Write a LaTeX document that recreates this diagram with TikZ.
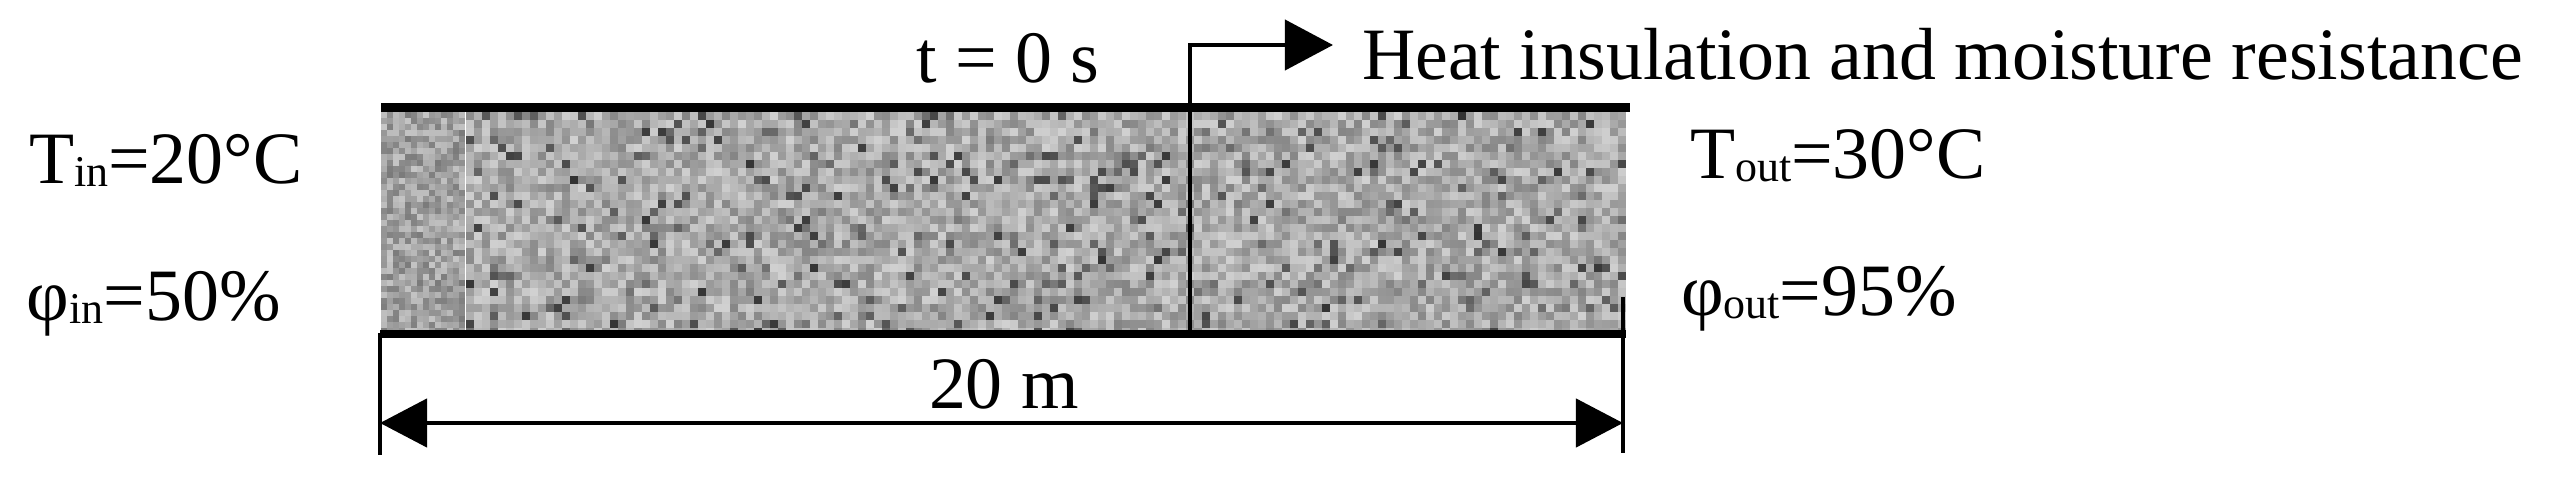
\documentclass[tikz,border=0pt]{standalone}
\usepackage{fontspec}
\setmainfont{Liberation Serif}
\usetikzlibrary{arrows.meta}
\newcommand{\mysub}[1]{\raisebox{-1pt}{\fontsize{12.5}{13}\selectfont #1}}
\tikzset{
  lbl/.style={inner sep=0pt, outer sep=0pt, anchor=base west, font=\fontsize{21}{25}\selectfont},
  wall/.style={line width=0.08cm},
  thinline/.style={line width=0.04cm},
  extline/.style={line width=0.035cm},
  bigtip/.style={-{Triangle[length=0.48cm,width=0.5cm]}},
  bothtips/.style={{Triangle[length=0.47cm,width=0.48cm]}-{Triangle[length=0.47cm,width=0.48cm]}}
}
\begin{document}
\begin{tikzpicture}[x=0.01cm,y=-0.01cm]
\useasboundingbox (0,0) rectangle (2562,494);
\pgfmathsetseed{7}
% textured slab
\begin{scope}
\clip (381,112) rectangle (1626,330);
\foreach \i in {0,...,144}{
  \foreach \j in {0,...,27}{
    \pgfmathsetmacro\g{18+30*rnd+(rnd>0.92)*32}
    \fill[black!\g] (466+\i*8,112+\j*8) rectangle ++(8.4,8.4);
  }
}
\foreach \i in {0,...,13}{
  \foreach \j in {0,...,36}{
    \pgfmathsetmacro\g{22+30*rnd}
    \fill[black!\g] (381+\i*6,112+\j*6) rectangle ++(6.4,6.4);
  }
}
\end{scope}
% coordinates
\coordinate (tl) at (381,107.5);
\coordinate (tr) at (1630,107.5);
\coordinate (bl) at (380,334);
\coordinate (br) at (1626,334);
\coordinate (dbot) at (1190,333);
\coordinate (dtop) at (1190,45);
\coordinate (atip) at (1333,45);
\coordinate (el1) at (380,333);
\coordinate (el2) at (380,455);
\coordinate (er1) at (1623,297);
\coordinate (er2) at (1623,453);
\coordinate (dl) at (380,423);
\coordinate (dr) at (1623,423);
% walls
\draw[wall] (tl) -- (tr);
\draw[wall] (bl) -- (br);
% divider and arrow
\draw[thinline, bigtip] (dbot) -- (dtop) -- (atip);
% dimension
\draw[extline] (el1) -- (el2);
\draw[extline] (er1) -- (er2);
\draw[line width=0.045cm, bothtips] (dl) -- (dr);
% labels
\node[lbl] (Tin) at (29,183) {T\mysub{in}=20°C};
\node[lbl] (phiin) at (27,320) {φ\mysub{in}=50\%};
\node[lbl] (Tout) at (1690,178) {T\mysub{out}=30°C};
\node[lbl] (phiout) at (1681,315) {φ\mysub{out}=95\%};
\node[lbl] (t0) at (916,82) {t = 0 s};
\node[lbl] (heat) at (1362,80) {Heat insulation and moisture resistance};
\node[lbl] (dim) at (929,408) {20 m};
\end{tikzpicture}
\end{document}
